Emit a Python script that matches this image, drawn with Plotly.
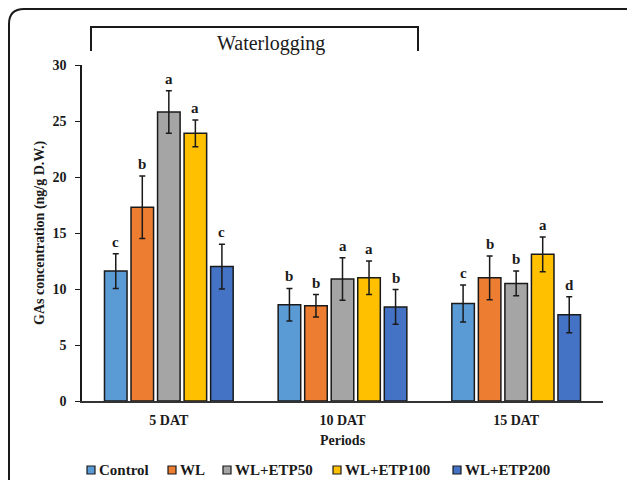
import plotly.graph_objects as go

periods = ["5 DAT", "10 DAT", "15 DAT"]
treatments = ["Control", "WL", "WL+ETP50", "WL+ETP100", "WL+ETP200"]
colors = ["#5B9BD5", "#ED7D31", "#A5A5A5", "#FFC000", "#4472C4"]

control = [11.6, 8.6, 8.7]
wl = [17.3, 8.5, 11.0]
etp50 = [25.8, 10.9, 10.5]
etp100 = [23.9, 11.0, 13.1]
etp200 = [12.0, 8.4, 7.7]

control_err = [1.55, 1.45, 1.65]
wl_err = [2.8, 1.0, 1.95]
etp50_err = [1.9, 1.9, 1.1]
etp100_err = [1.2, 1.5, 1.55]
etp200_err = [2.0, 1.55, 1.6]

control_lbl = ["c", "b", "c"]
wl_lbl = ["b", "b", "b"]
etp50_lbl = ["a", "a", "b"]
etp100_lbl = ["a", "a", "a"]
etp200_lbl = ["c", "b", "d"]

values = [control, wl, etp50, etp100, etp200]
errors = [control_err, wl_err, etp50_err, etp100_err, etp200_err]
letters = [control_lbl, wl_lbl, etp50_lbl, etp100_lbl, etp200_lbl]

W, H = 627, 480
ML, MR, MT, MB = 82, 24, 65, 79
PW, PH = W - ML - MR, H - MT - MB
BARGAP = 0.236
FONT = "Liberation Serif"
INK = "#1a1a1a"


def px(x):
    return (x - ML) / PW


def py(y):
    return (H - MB - y) / PH


fig = go.Figure()
for i, name in enumerate(treatments):
    fig.add_trace(go.Bar(
        name=name, x=periods, y=values[i],
        marker=dict(color=colors[i], line=dict(color=INK, width=1.5)),
        error_y=dict(type="data", array=errors[i], visible=True,
                     color=INK, thickness=1.5, width=3),
    ))

annotations = []
slot = (1 - BARGAP) / len(treatments)
for i in range(len(treatments)):
    for j in range(len(periods)):
        annotations.append(dict(
            x=j + (i - 2) * slot, y=values[i][j] + errors[i][j],
            xref="x", yref="y", text="<b>%s</b>" % letters[i][j],
            showarrow=False, xanchor="center", yanchor="bottom", yshift=2,
            font=dict(family=FONT, size=15, color=INK),
        ))

annotations.append(dict(
    x=px(40), y=0.5, xref="paper", yref="paper", xanchor="center", yanchor="middle",
    text="<b>GAs concentration (ng/g D.W.)</b>", textangle=-90,
    showarrow=False, font=dict(family=FONT, size=14, color=INK),
))
annotations.append(dict(
    x=0.5, y=py(440), xref="paper", yref="paper", xanchor="center", yanchor="middle",
    text="<b>Periods</b>",
    showarrow=False, font=dict(family=FONT, size=14, color=INK),
))
annotations.append(dict(
    x=px(271), y=py(43), xref="paper", yref="paper", xanchor="center", yanchor="middle",
    text="Waterlogging",
    showarrow=False, font=dict(family=FONT, size=20, color=INK),
))

shapes = [
    dict(type="path", xref="paper", yref="paper",
         path="M %f %f L %f %f L %f %f L %f %f" % (px(91), py(51), px(91), py(27),
                                                  px(418), py(27), px(418), py(51)),
         line=dict(color=INK, width=2)),
    dict(type="path", xref="paper", yref="paper",
         path="M %f %f L %f %f Q %f %f %f %f L %f %f" % (
             px(9), py(485), px(9), py(24), px(9), py(9), px(24), py(9),
             px(632), py(9)),
         line=dict(color=INK, width=2)),
]

# legend drawn as keys + labels
legend_left = [87, 168, 223, 333, 453]
LEG_Y = 470
for i, name in enumerate(treatments):
    x0 = legend_left[i]
    shapes.append(dict(type="rect", xref="paper", yref="paper",
                       x0=px(x0), x1=px(x0 + 8), y0=py(LEG_Y + 4), y1=py(LEG_Y - 4),
                       fillcolor=colors[i], line=dict(color=INK, width=1.2)))
    annotations.append(dict(
        x=px(x0 + 10), y=py(LEG_Y), xref="paper", yref="paper",
        xanchor="left", yanchor="middle", text="<b>%s</b>" % name,
        showarrow=False, font=dict(family=FONT, size=15, color=INK),
    ))

fig.update_layout(
    width=W, height=H,
    margin=dict(l=ML, r=MR, t=MT, b=MB, autoexpand=False),
    paper_bgcolor="white", plot_bgcolor="white",
    barmode="group", bargap=BARGAP, bargroupgap=0.15,
    font=dict(family=FONT, color=INK),
    xaxis=dict(showline=True, linecolor="#333", linewidth=2, ticks="",
               showgrid=False, zeroline=False, ticklabelstandoff=5,
               tickfont=dict(family=FONT, size=14, weight="bold")),
    yaxis=dict(range=[0, 30], dtick=5, showline=True, linecolor=INK,
               linewidth=1.5, ticks="outside", ticklen=5, tickcolor=INK,
               showgrid=False, zeroline=False, ticklabelstandoff=6,
               tickfont=dict(family=FONT, size=14, weight="bold")),
    annotations=annotations, shapes=shapes, showlegend=False,
)

fig.write_html("out.html")
